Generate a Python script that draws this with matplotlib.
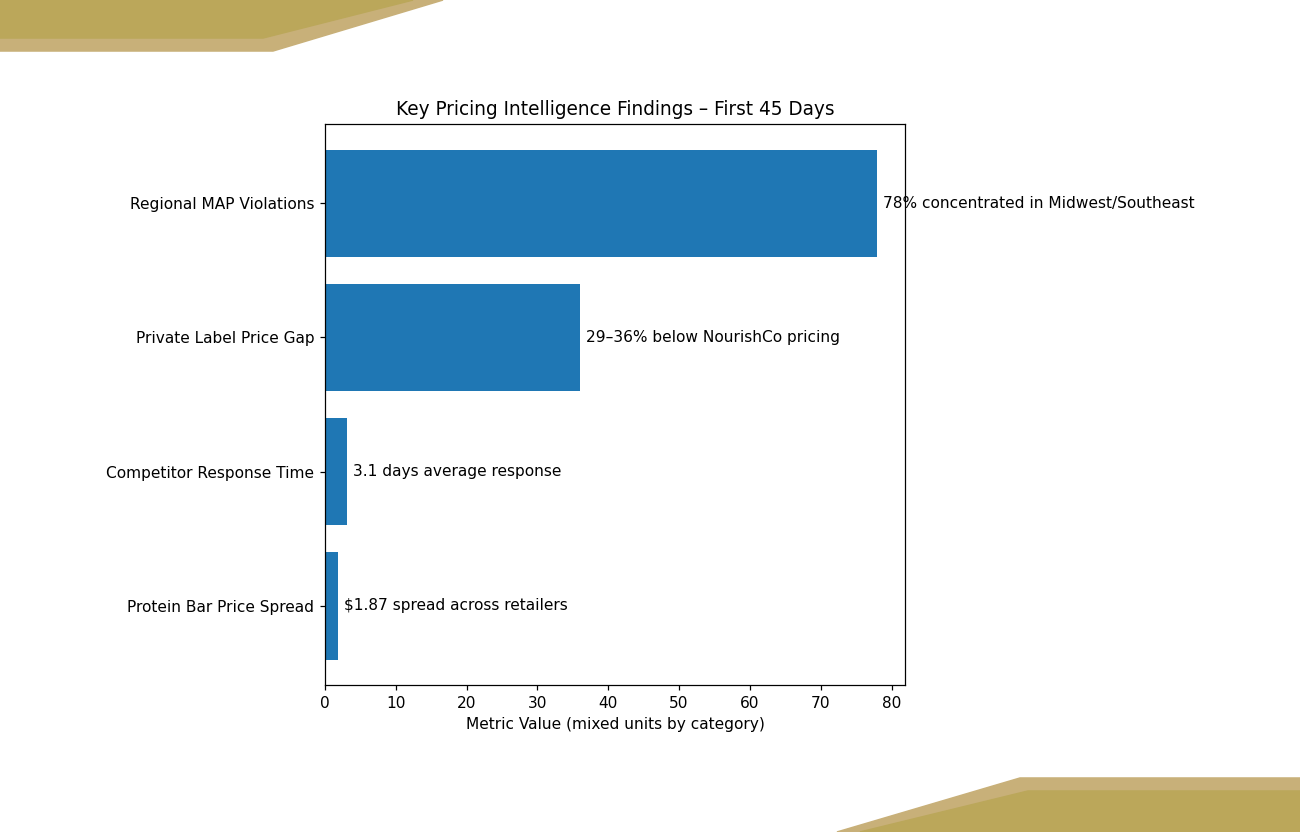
import numpy as np
import matplotlib.pyplot as plt
from matplotlib.patches import Polygon

# Data
categories = ["Regional MAP Violations", "Private Label Price Gap",
              "Competitor Response Time", "Protein Bar Price Spread"]
values = [78, 36, 3.1, 1.87]
notes = ["78% concentrated in Midwest/Southeast",
         "29\u201336% below NourishCo pricing",
         "3.1 days average response",
         "$1.87 spread across retailers"]

DPI = 111
W, H = 1300, 832
fig = plt.figure(figsize=(W / DPI, H / DPI), dpi=DPI)

# Decorative corner shapes (figure pixel coords)
dark = "#BBA75A"
light = "#C8B079"
def px(pts):
    return [(x / W, 1 - y / H) for x, y in pts]
fig.patches.append(Polygon(px([(0, 0), (443, 0), (273, 51), (0, 51)]),
                           closed=True, transform=fig.transFigure, color=light, zorder=0))
fig.patches.append(Polygon(px([(0, 0), (413, 0), (263, 38), (0, 38)]),
                           closed=True, transform=fig.transFigure, color=dark, zorder=0))
fig.patches.append(Polygon(px([(1020, 778), (1300, 778), (1300, 832), (837, 832)]),
                           closed=True, transform=fig.transFigure, color=light, zorder=0))
fig.patches.append(Polygon(px([(1028, 791), (1300, 791), (1300, 832), (860, 832)]),
                           closed=True, transform=fig.transFigure, color=dark, zorder=0))

ax = fig.add_axes([325 / W, 1 - 685 / H, (905 - 325) / W, (685 - 124) / H])
y = np.arange(len(categories))
ax.barh(y, values, color="#1f77b4")
ax.set_yticks(y)
ax.set_yticklabels(categories)
ax.invert_yaxis()
for yi, v, n in zip(y, values, notes):
    ax.text(v + 0.8, yi, n, va="center", ha="left", fontsize=10)
ax.set_xlabel("Metric Value (mixed units by category)")
ax.set_title("Key Pricing Intelligence Findings \u2013 First 45 Days")

fig.savefig("out.png", dpi=DPI)
